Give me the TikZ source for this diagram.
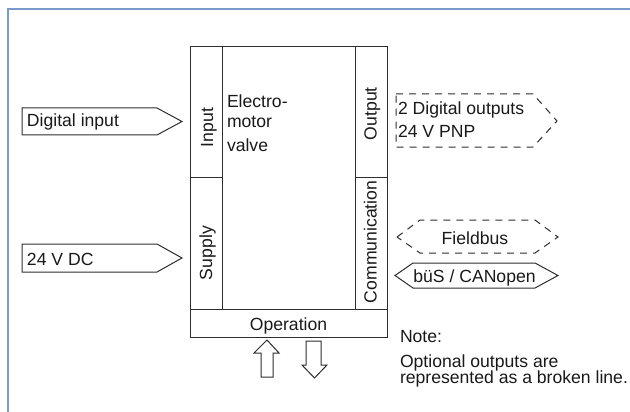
\documentclass[tikz,border=0pt]{standalone}
\usepackage{fontspec}
\setmainfont{Liberation Sans}
\definecolor{framecol}{RGB}{122,153,204}
\definecolor{linecol}{RGB}{45,45,45}
\definecolor{txtcol}{RGB}{25,25,25}
\begin{document}
\begin{tikzpicture}[x=1pt,y=-1pt,
  lbl/.style={inner sep=0pt,outer sep=0pt,anchor=base west,text=txtcol,font=\fontsize{17.6}{21}\selectfont},
  rlbl/.style={lbl,rotate=90},
  clbl/.style={lbl,anchor=base},
  shp/.style={draw=linecol,line width=1pt,line join=miter},
  dsh/.style={shp,dash pattern=on 7pt off 6pt},
  framel/.style={draw=framecol,line width=1.6pt}]
\useasboundingbox (0,0) rectangle (630,412);
% frame
\draw[framel] (8,412) -- (8,9) -- (630,9);
% main block
\draw[shp] (190,47) rectangle (387,337);
\draw[shp] (222,47) -- (222,309);
\draw[shp] (355,47) -- (355,309);
\draw[shp] (190,309) -- (387,309);
\draw[shp] (190,177) -- (222,177);
\draw[shp] (355,177) -- (387,177);
% input signals
\draw[shp] (22,108) -- (157,108) -- (182,121.5) -- (157,135) -- (22,135) -- cycle;
\draw[shp] (22,244) -- (157,244) -- (182,258) -- (157,272) -- (22,272) -- cycle;
% outputs
\draw[dsh] (396,94) -- (533,94) -- (557,121) -- (533,147) -- (396,147) -- cycle;
\draw[dsh] (397,237) -- (420,220) -- (535,220) -- (558,237) -- (535,253) -- (420,253) -- cycle;
\draw[shp] (395,275.5) -- (413,263) -- (535,263) -- (558,275.5) -- (535,288) -- (413,288) -- cycle;
% operation arrows
\draw[shp] (261,377) -- (261,353) -- (254,353) -- (267,340) -- (279,353) -- (273,353) -- (273,377) -- cycle;
\draw[shp] (306,341) -- (321,341) -- (321,365) -- (327,365) -- (314.5,378) -- (302,365) -- (306,365) -- cycle;
% texts
\node[lbl] (din) at (27,127) {Digital input};
\node[lbl] (dc) at (27,265) {24 V DC};
\node[lbl] (el1) at (227,107) {Electro-};
\node[lbl] (el2) at (227,127.3) {motor};
\node[lbl] (el3) at (227,151.7) {valve};
\node[rlbl] (inp) at (213,147) {Input};
\node[rlbl] (sup) at (212,280) {Supply};
\node[rlbl] (outp) at (376.5,140) {Output};
\node[rlbl] (comm) at (376.5,303) {Communication};
\node[clbl] (op) at (288.5,330) {Operation};
\node[lbl] (do1) at (398,115) {2 Digital outputs};
\node[lbl] (do2) at (398,137) {24 V PNP};
\node[clbl] (fb) at (475,244) {Fieldbus};
\node[clbl] (bus) at (474.5,282) {büS / CANopen};
\node[lbl] (n1) at (400,342) {Note:};
\node[lbl] (n2) at (400,367) {Optional outputs are};
\node[lbl] (n3) at (400,383) {represented as a broken line.};
\end{tikzpicture}
\end{document}
